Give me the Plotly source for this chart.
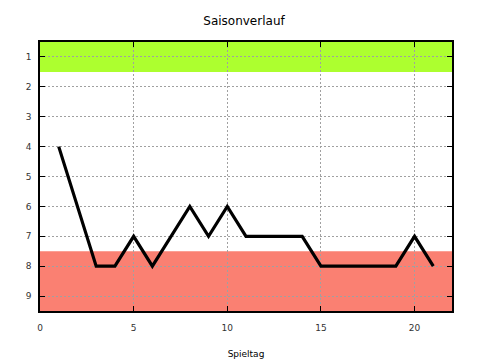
import plotly.graph_objects as go

spieltag = list(range(1, 22))
platz = [4, 6, 8, 8, 7, 8, 7, 6, 7, 6, 7, 7, 7, 7, 8, 8, 8, 8, 8, 7, 8]
x_ticks = [0, 5, 10, 15, 20]
y_ticks = [1, 2, 3, 4, 5, 6, 7, 8, 9]
green_band = [0.5, 1.5]
red_band = [7.5, 9.5]

fig = go.Figure()
fig.add_trace(go.Scatter(x=spieltag, y=platz, mode="lines",
                         line=dict(color="black", width=3.2), showlegend=False))

fig.add_shape(type="rect", xref="paper", yref="y", x0=0, x1=1,
              y0=green_band[0], y1=green_band[1], fillcolor="#adff2f",
              line=dict(width=0), layer="below")
fig.add_shape(type="rect", xref="paper", yref="y", x0=0, x1=1,
              y0=red_band[0], y1=red_band[1], fillcolor="#fa8072",
              line=dict(width=0), layer="below")

axis_common = dict(showline=True, linecolor="black", linewidth=1.5, mirror="ticks",
                   ticks="inside", ticklen=5, tickcolor="black", automargin=False,
                   showgrid=True, gridcolor="#a0a0a0", griddash="2px,2px", gridwidth=1,
                   zeroline=False, tickfont=dict(family="DejaVu Sans", size=9, color="#333"))

fig.update_xaxes(range=[0, 22], tickvals=x_ticks, ticklabelstandoff=7, **axis_common,
                 title=dict(text="Spieltag", font=dict(family="DejaVu Sans", size=9, color="black"), standoff=19))
fig.update_yaxes(range=[9.5, 0.5], tickvals=y_ticks, ticklabelstandoff=5, **axis_common)

fig.update_layout(
    width=472, height=352,
    margin=dict(l=32, r=28, t=34, b=49),
    paper_bgcolor="white", plot_bgcolor="white",
    title=dict(text="Saisonverlauf", x=0.5, xanchor="center", y=0.965, yanchor="middle",
               font=dict(family="DejaVu Sans", size=12, color="black")),
)

fig.write_html("out.html")
